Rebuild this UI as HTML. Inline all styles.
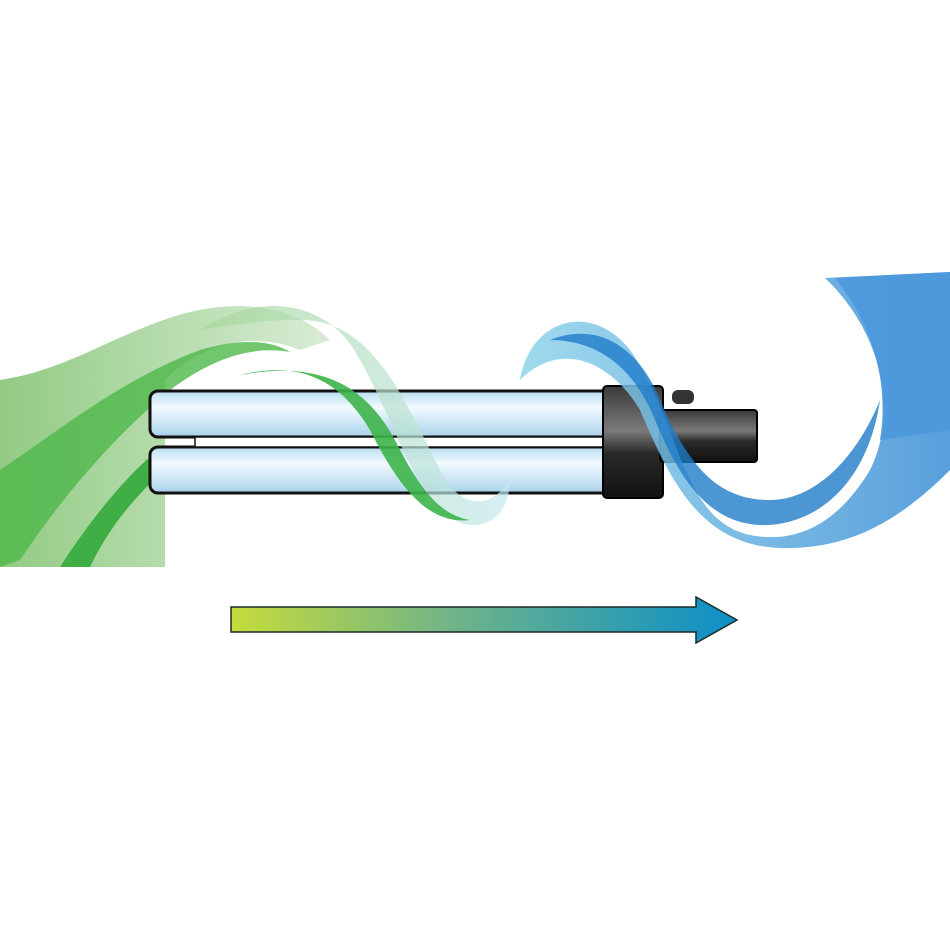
<!DOCTYPE html>
<html><head><style>html,body{margin:0;padding:0;background:#fff}svg{display:block}</style></head><body>
<svg width="950" height="950" viewBox="0 0 950 950" xmlns="http://www.w3.org/2000/svg">
<defs>
<linearGradient id="ar" x1="0" x2="1"><stop offset="0" stop-color="#c5dc3a"/><stop offset="0.45" stop-color="#6db38a"/><stop offset="1" stop-color="#0b8fc8"/></linearGradient>
<linearGradient id="tube" x1="0" y1="0" x2="0" y2="1"><stop offset="0" stop-color="#b9dcef"/><stop offset="0.35" stop-color="#f2fbff"/><stop offset="1" stop-color="#a9d2ea"/></linearGradient>
<linearGradient id="base" x1="0" y1="0" x2="0" y2="1"><stop offset="0" stop-color="#3a3a3a"/><stop offset="0.4" stop-color="#7a7a7a"/><stop offset="0.6" stop-color="#2a2a2a"/><stop offset="1" stop-color="#111"/></linearGradient>
<linearGradient id="gl" x1="0" x2="1"><stop offset="0" stop-color="#86c576"/><stop offset="1" stop-color="#d5ead0"/></linearGradient>
<linearGradient id="gw" x1="0" x2="1"><stop offset="0" stop-color="#a8d698"/><stop offset="1" stop-color="#c4e8f0"/></linearGradient>
<linearGradient id="bw" x1="0" x2="1"><stop offset="0" stop-color="#8fd3ea"/><stop offset="1" stop-color="#3b8ed6"/></linearGradient>
</defs>
<path d="M0 380 C70 370 120 330 190 312 C250 298 300 310 330 340 L300 350 C250 330 200 345 165 380 L165 567 L0 567 Z" fill="url(#gl)" opacity="0.9"/>
<path d="M0 470 C60 430 120 380 200 350 C240 338 270 340 290 352 C250 345 210 360 170 390 C110 440 60 500 20 560 L0 567 Z" fill="#4db84a" opacity="0.8"/>
<path d="M60 567 C90 520 130 470 165 445 L165 470 C130 500 105 535 90 567 Z" fill="#3fae45"/>
<rect x="150" y="391" width="460" height="46" rx="8" fill="url(#tube)" stroke="#111" stroke-width="3"/>
<rect x="150" y="447" width="460" height="46" rx="8" fill="url(#tube)" stroke="#111" stroke-width="3"/>
<rect x="195" y="437" width="410" height="10" fill="#fff" stroke="#111" stroke-width="1.5"/>
<rect x="603" y="386" width="60" height="112" rx="4" fill="url(#base)" stroke="#000" stroke-width="2"/>
<rect x="660" y="410" width="97" height="52" rx="3" fill="url(#base)" stroke="#000" stroke-width="2"/>
<rect x="672" y="390" width="22" height="14" rx="6" fill="#333"/>
<path d="M200 330 C260 290 330 300 360 360 C400 430 420 520 470 525 C500 527 510 500 510 480 C490 510 460 510 440 470 C400 390 370 320 300 320 C260 320 230 325 200 330 Z" fill="url(#gw)" opacity="0.7"/>
<path d="M240 375 C300 360 340 380 370 430 C400 490 430 525 470 520 C440 515 420 490 395 440 C365 385 320 360 240 375 Z" fill="#3db44a" opacity="0.9"/>
<path d="M520 380 C530 320 590 300 630 350 C680 420 680 520 750 535 C800 545 840 520 870 470 C900 410 880 330 825 278 L950 272 L950 470 C900 520 850 550 780 548 C700 545 670 480 640 410 C610 360 560 340 520 380 Z" fill="url(#bw)" opacity="0.85"/>
<path d="M550 340 C600 320 640 350 660 400 C690 470 720 500 770 500 C820 500 860 450 880 400 C870 470 830 520 770 525 C710 528 680 480 655 420 C635 370 600 340 550 340 Z" fill="#1f7cc9" opacity="0.8"/>
<path d="M835 278 C870 320 890 380 880 440 L950 430 L950 272 Z" fill="#4d98dc" opacity="0.9"/>
<path d="M231 607 L696 607 L696 597 L737 620 L696 643 L696 632 L231 632 Z" fill="url(#ar)" stroke="#1a2a2a" stroke-width="1.5"/>
</svg>
</body></html>
